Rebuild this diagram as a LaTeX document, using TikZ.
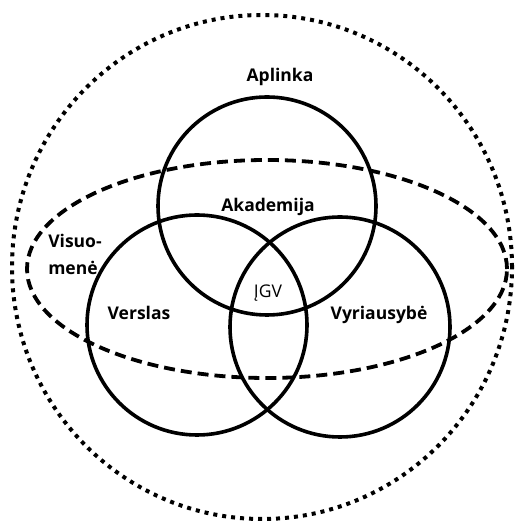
\documentclass[tikz,border=0pt]{standalone}
\usepackage{fontspec}
\setmainfont{Open Sans}
\usepackage{tikz}

\begin{document}
\begin{tikzpicture}[x=1pt,y=1pt,
		ratas/.style={line width=3.6pt},
		zodis/.style={font=\fontsize{17.5}{27}\selectfont\bfseries},
		plonas/.style={font=\fontsize{17.5}{18}\selectfont}]
	\useasboundingbox (0,0) rectangle (517,526);
	
	% aplinka (taskuota)
	\draw[line width=4pt,dash pattern=on 4pt off 5pt] (262,259) ellipse (250 and 252);
	
	% visuomene (bruksniuota)
	\draw[line width=3.8pt,dash pattern=on 11pt off 6pt] (267,257) ellipse (240 and 109);
	
	% trys apskritimai
	\draw[ratas] (267,320) circle (109);
	\draw[ratas] (197,201) circle (110);
	\draw[ratas] (340,199) circle (110);
	
	% uzrasai
	\node[zodis] (aplinka) at (280,449) {Aplinka};
	\node[zodis] (akademija) at (268,319) {Akademija};
	\node[zodis,align=left] (visuomene) at (75,272) {Visuo-\\menė};
	\node[zodis] (verslas) at (139,213) {Verslas};
	\node[plonas] (igv) at (268,233) {ĮGV};
	\node[zodis] (vyriausybe) at (379,211) {Vyriausybė};
	
\end{tikzpicture}
\end{document}
